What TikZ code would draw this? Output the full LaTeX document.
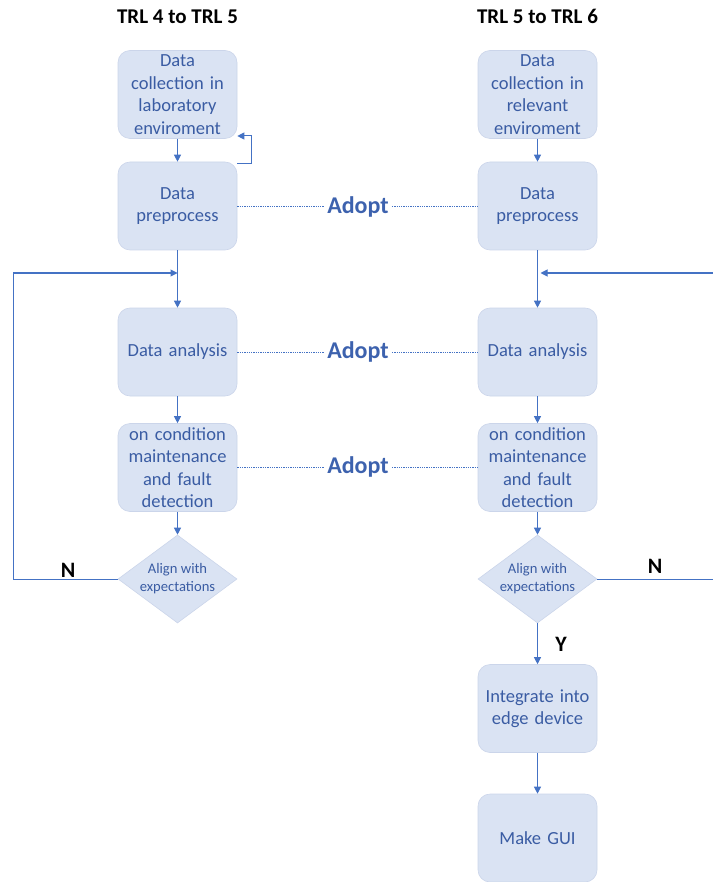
\documentclass[tikz,border=0pt]{standalone}
\usepackage{fontspec}
\setmainfont{Carlito}
\usetikzlibrary{arrows.meta,shapes.geometric}
\definecolor{boxfill}{HTML}{DAE3F3}
\definecolor{boxedge}{HTML}{CBD5EA}
\definecolor{boxtext}{HTML}{3A5CA3}
\definecolor{flow}{HTML}{4472C4}
\definecolor{adopttext}{HTML}{3D62AE}
\begin{document}
\begin{tikzpicture}[x=1pt,y=-1pt,
  stepbox/.style={rectangle, rounded corners=12pt, fill=boxfill, draw=boxedge,
    line width=0.6pt, minimum width=119pt, minimum height=88pt, text width=117pt,
    align=center, inner sep=0pt, text=boxtext, font=\fontsize{18.5}{22.5}\selectfont},
  decision/.style={diamond, fill=boxfill, draw=boxedge, line width=0.6pt,
    minimum width=119pt, minimum height=88pt, inner sep=0pt},
  dectext/.style={align=center, text=boxtext, inner sep=0pt,
    font=\fontsize{14.6}{17.8}\selectfont},
  flowarrow/.style={draw=flow, line width=1pt, -{Triangle[length=7pt,width=7pt]}},
  adoptline/.style={draw=flow, line width=1pt, dash pattern=on 1.3pt off 1pt},
  adopt/.style={text=adopttext, inner sep=3pt, font=\fontsize{24}{28}\selectfont\bfseries},
  heading/.style={anchor=base, inner sep=0pt, font=\fontsize{21}{25}\selectfont\bfseries},
  yn/.style={inner sep=0pt, font=\fontsize{22}{26}\selectfont\bfseries}
]
\useasboundingbox (0,0) rectangle (712,882);

% column headings
\node[heading] (h1) at (177.5,24) {TRL 4 to TRL 5};
\node[heading] (h2) at (537.5,24) {TRL 5 to TRL 6};

% left column
\node[stepbox] (b1) at (177.5,94.5) {Data\\collection in\\laboratory\\enviroment};
\node[stepbox] (b2) at (177.5,206) {Data\\preprocess};
\node[stepbox] (b3) at (177.5,352) {Data analysis};
\node[stepbox] (b4) at (177.5,467.5) {on condition\\maintenance\\and fault\\detection};
\node[decision] (d1) at (177.5,579) {};
\node[dectext] (d1t) at (d1) {Align with\\expectations};

% right column
\node[stepbox] (r1) at (537.5,94.5) {Data\\collection in\\relevant\\enviroment};
\node[stepbox] (r2) at (537.5,206) {Data\\preprocess};
\node[stepbox] (r3) at (537.5,352) {Data analysis};
\node[stepbox] (r4) at (537.5,467.5) {on condition\\maintenance\\and fault\\detection};
\node[decision] (d2) at (537.5,579) {};
\node[dectext] (d2t) at (d2) {Align with\\expectations};
\node[stepbox] (r5) at (537.5,708.5) {Integrate into\\edge device};
\node[stepbox] (r6) at (537.5,838) {Make GUI};

% links between the two columns
\node[adopt] (a1) at (358,207) {Adopt};
\node[adopt] (a2) at (358,352) {Adopt};
\node[adopt] (a3) at (358,467) {Adopt};
\draw[adoptline] (b2.east |- a1) -- (a1.west);
\draw[adoptline] (a1.east) -- (r2.west |- a1);
\draw[adoptline] (b3.east |- a2) -- (a2.west);
\draw[adoptline] (a2.east) -- (r3.west |- a2);
\draw[adoptline] (b4.east |- a3) -- (a3.west);
\draw[adoptline] (a3.east) -- (r4.west |- a3);

% left flow
\draw[flowarrow] (b1) -- (b2);
\coordinate (lpA) at (251,164);
\coordinate (lpB) at (251,136);
\draw[flowarrow] (b2.east |- lpA) -- (lpA) -- (lpB) -- (b1.east |- lpB);
\draw[flowarrow] (b2) -- (b3);
\draw[flowarrow] (b3) -- (b4);
\draw[flowarrow] (b4) -- (d1);
\coordinate (fbL) at (13,273);
\draw[flowarrow] (d1.west) -| (fbL) -- (b2.south |- fbL);
\node[yn] (n1) at (68,570) {N};

% right flow
\draw[flowarrow] (r1) -- (r2);
\draw[flowarrow] (r2) -- (r3);
\draw[flowarrow] (r3) -- (r4);
\draw[flowarrow] (r4) -- (d2);
\coordinate (fbR) at (718,273);
\draw[flowarrow] (d2.east) -| (fbR) -- ([xshift=3pt]r2.south |- fbR);
\node[yn] (n2) at (655,566) {N};
\draw[flowarrow] (d2) -- (r5);
\node[yn] (y2) at (561,644) {Y};
\draw[flowarrow] (r5) -- (r6);
\end{tikzpicture}
\end{document}
